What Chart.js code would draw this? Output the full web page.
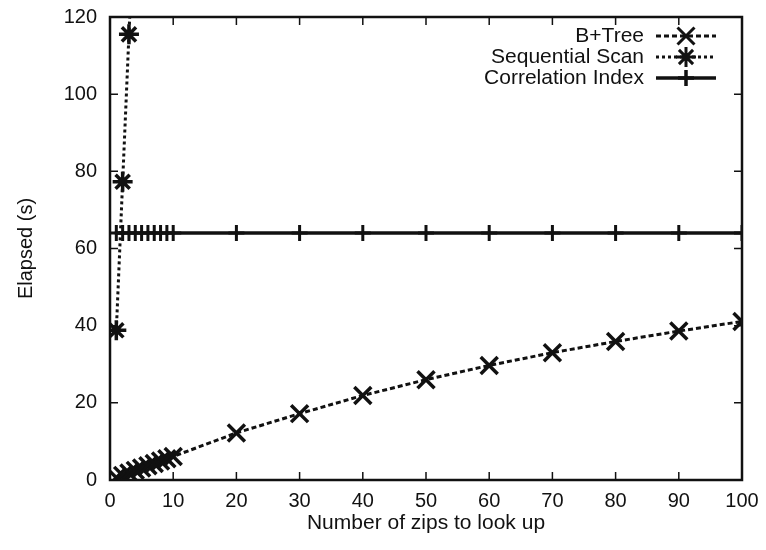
<!DOCTYPE html>
<html>
<head>
<meta charset="utf-8">
<script src="https://cdn.jsdelivr.net/npm/chart.js@4"></script>
<style>
  html, body { margin: 0; padding: 0; background: #fff; }
  #wrap { width: 766px; height: 550px; }
</style>
</head>
<body>
<div id="wrap"><canvas id="chart" width="766" height="550"></canvas></div>
<script>
// zips looked up (x) and elapsed seconds (y)
const zipCounts = [1, 2, 3, 4, 5, 6, 7, 8, 9, 10, 20, 30, 40, 50, 60, 70, 80, 90, 100];
const btreeSecs = [0.6, 1.2, 1.8, 2.5, 3.1, 3.7, 4.3, 4.9, 5.5, 6.1, 12.2, 17.2, 21.9, 26, 29.7, 33, 35.9, 38.6, 41.1];
const seqZips = [1, 2, 3, 4];
const seqSecs = [38.8, 77.3, 115.5, 154];
const corrSecs = [64, 64, 64, 64, 64, 64, 64, 64, 64, 64, 64, 64, 64, 64, 64, 64, 64, 64, 64];
const xTicks = [0, 10, 20, 30, 40, 50, 60, 70, 80, 90, 100];
const yTicks = [0, 20, 40, 60, 80, 100, 120];

const INK = '#111';
const FONT = '"Liberation Sans", Arial, sans-serif';

const toPoints = (xs, ys) => xs.map((x, i) => ({ x: x, y: ys[i] }));

// gnuplot-like frame: full box with inward ticks on all four sides, plus inline legend
const framePlugin = {
    id: 'frame',
    afterDraw(chart) {
        const ctx = chart.ctx;
        const area = chart.chartArea;
        const xs = chart.scales.x;
        const ys = chart.scales.y;
        const tick = 8;

        ctx.save();
        ctx.strokeStyle = INK;
        ctx.lineWidth = 2.5;
        ctx.setLineDash([]);
        ctx.strokeRect(area.left, area.top, area.right - area.left, area.bottom - area.top);

        ctx.lineWidth = 1.5;
        ctx.beginPath();
        xTicks.forEach(v => {
            const px = xs.getPixelForValue(v);
            ctx.moveTo(px, area.bottom);
            ctx.lineTo(px, area.bottom - tick);
            ctx.moveTo(px, area.top);
            ctx.lineTo(px, area.top + tick);
        });
        yTicks.forEach(v => {
            const py = ys.getPixelForValue(v);
            ctx.moveTo(area.left, py);
            ctx.lineTo(area.left + tick, py);
            ctx.moveTo(area.right, py);
            ctx.lineTo(area.right - tick, py);
        });
        ctx.stroke();

        // legend, text right-aligned with a line sample on its right
        ctx.font = '21px ' + FONT;
        ctx.fillStyle = INK;
        ctx.textAlign = 'right';
        ctx.textBaseline = 'middle';
        const textRight = area.right - 98;
        const sampleL = area.right - 86;
        const sampleR = area.right - 26;
        chart.data.datasets.forEach((ds, i) => {
            const y = area.top + 19 + i * 21;
            ctx.fillText(ds.label, textRight, y);
            ctx.strokeStyle = ds.borderColor;
            ctx.lineWidth = ds.borderWidth;
            ctx.setLineDash(ds.borderDash || []);
            ctx.beginPath();
            ctx.moveTo(sampleL, y);
            ctx.lineTo(sampleR, y);
            ctx.stroke();
            ctx.setLineDash([]);
            Chart.helpers.drawPoint(ctx, {
                pointStyle: ds.pointStyle,
                radius: ds.pointRadius,
                borderWidth: ds.pointBorderWidth,
                rotation: 0
            }, (sampleL + sampleR) / 2, y);
        });
        ctx.restore();
    }
};

new Chart(document.getElementById('chart'), {
    type: 'scatter',
    data: {
        datasets: [
            {
                label: 'B+Tree',
                data: toPoints(zipCounts, btreeSecs),
                showLine: true,
                borderColor: INK,
                backgroundColor: INK,
                borderWidth: 3,
                borderDash: [5, 3],
                pointStyle: 'crossRot',
                pointRadius: 12,
                pointBorderWidth: 3.5
            },
            {
                label: 'Sequential Scan',
                data: toPoints(seqZips, seqSecs),
                showLine: true,
                borderColor: INK,
                backgroundColor: INK,
                borderWidth: 3,
                borderDash: [3, 3],
                pointStyle: 'star',
                pointRadius: 10,
                pointBorderWidth: 3.5
            },
            {
                label: 'Correlation Index',
                data: toPoints(zipCounts, corrSecs),
                showLine: true,
                borderColor: INK,
                backgroundColor: INK,
                borderWidth: 3.5,
                pointStyle: 'cross',
                pointRadius: 8,
                pointBorderWidth: 3
            }
        ]
    },
    options: {
        responsive: false,
        animation: false,
        layout: { padding: { top: 17, right: 24, left: 0, bottom: 0 } },
        plugins: {
            legend: { display: false },
            tooltip: { enabled: false }
        },
        scales: {
            x: {
                type: 'linear',
                min: 0,
                max: 100,
                afterFit: s => {
                    s.height = 70;
                    s.paddingLeft = 0;
                    s.paddingRight = 0;
                },
                afterBuildTicks: s => { s.ticks = xTicks.map(v => ({ value: v })); },
                grid: { display: false, drawTicks: false },
                border: { display: false },
                ticks: { color: INK, font: { family: FONT, size: 20 }, padding: 9, maxRotation: 0 },
                title: { display: true, text: 'Number of zips to look up', color: INK, font: { family: FONT, size: 21 }, padding: { top: 0, bottom: 14 } }
            },
            y: {
                type: 'linear',
                min: 0,
                max: 120,
                afterFit: s => {
                    s.width = 110;
                    s.paddingTop = 0;
                    s.paddingBottom = 0;
                },
                afterBuildTicks: s => { s.ticks = yTicks.map(v => ({ value: v })); },
                grid: { display: false, drawTicks: false },
                border: { display: false },
                ticks: { color: INK, font: { family: FONT, size: 20 }, padding: 13 },
                title: { display: true, text: 'Elapsed (s)', color: INK, font: { family: FONT, size: 20 }, padding: { top: 14, bottom: 0 } }
            }
        }
    },
    plugins: [framePlugin]
});
</script>
</body>
</html>
